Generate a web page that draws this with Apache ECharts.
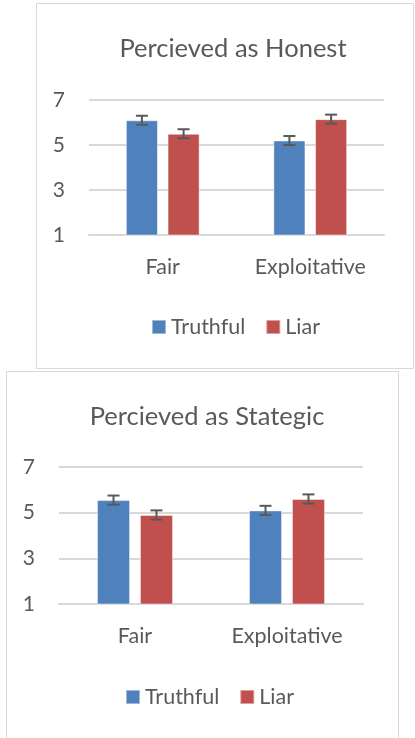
<!DOCTYPE html>
<html>
<head>
<meta charset="utf-8">
<script src="https://cdn.jsdelivr.net/npm/echarts@6/dist/echarts.min.js"></script>
<style>
  html, body { margin: 0; padding: 0; background: #fff; }
  #chart { width: 415px; height: 738px; }
</style>
</head>
<body>
<div id="chart"></div>
<script>
// 数据
var categories = ['Fair', 'Exploitative'];
var seriesNames = ['Truthful', 'Liar'];
var yTicks = [1, 3, 5, 7];

var honestTruthful = [6.1, 5.2];
var honestLiar = [5.5, 6.15];
var honestTruthfulErr = [0.2, 0.2];
var honestLiarErr = [0.2, 0.2];

var strategicTruthful = [5.55, 5.1];
var strategicLiar = [4.9, 5.6];
var strategicTruthfulErr = [0.2, 0.2];
var strategicLiarErr = [0.2, 0.2];

var BLUE = '#4F81BD', RED = '#C0504D', GRAY = '#595959', LINE = '#D9D9D9';
var FONT = 'Lato';
var CAT_GAP = 0.5, BAR_GAP = 0.3;

var chart = echarts.init(document.getElementById('chart'));

// 误差线 (custom series), 按柱子的位置偏移
function errorSeries(gi, idx, vals, errs) {
  var data = vals.map(function (v, i) { return [i, v - errs[i], v + errs[i]]; });
  return {
    type: 'custom',
    xAxisIndex: gi, yAxisIndex: gi,
    z: 10,
    silent: true,
    data: data,
    renderItem: function (params, api) {
      var band = api.size([1, 0])[0];
      var used = band * (1 - CAT_GAP);
      var barW = used / (2 + BAR_GAP);
      var off = -used / 2 + barW / 2 + idx * barW * (1 + BAR_GAP);
      var lo = api.coord([api.value(0), api.value(1)]);
      var hi = api.coord([api.value(0), api.value(2)]);
      var x = lo[0] + off, cap = 6;
      var st = { stroke: GRAY, lineWidth: 2 };
      return {
        type: 'group',
        children: [
          { type: 'line', shape: { x1: x, y1: lo[1], x2: x, y2: hi[1] }, style: st },
          { type: 'line', shape: { x1: x - cap, y1: lo[1], x2: x + cap, y2: lo[1] }, style: st },
          { type: 'line', shape: { x1: x - cap, y1: hi[1], x2: x + cap, y2: hi[1] }, style: st }
        ]
      };
    }
  };
}

function barSeries(gi, name, color, vals) {
  return {
    name: name,
    type: 'bar',
    xAxisIndex: gi, yAxisIndex: gi,
    data: vals,
    barGap: (BAR_GAP * 100) + '%',
    barCategoryGap: (CAT_GAP * 100) + '%',
    itemStyle: { color: color, borderColor: 'rgba(255,255,255,0.45)', borderWidth: 1 }
  };
}

function xAxis(gi) {
  return {
    type: 'category', gridIndex: gi, data: categories,
    axisTick: { show: false },
    axisLine: { lineStyle: { color: LINE, width: 2 } },
    axisLabel: { color: GRAY, fontFamily: FONT, fontSize: 21.5, margin: 21 }
  };
}

function yAxis(gi) {
  return {
    type: 'value', gridIndex: gi,
    min: yTicks[0], max: yTicks[yTicks.length - 1], interval: 2,
    axisLine: { show: false }, axisTick: { show: false },
    splitLine: { lineStyle: { color: LINE, width: 2 } },
    axisLabel: { color: GRAY, fontFamily: FONT, fontSize: 21, margin: 24 }
  };
}

function legend(left, top) {
  return {
    data: seriesNames, left: left, top: top,
    itemWidth: 14, itemHeight: 14, itemGap: 20,
    icon: 'rect',
    selectedMode: false,
    textStyle: { color: GRAY, fontFamily: FONT, fontSize: 21.5 }
  };
}

var option = {
  animation: false,
  graphic: [
    { type: 'rect', shape: { x: 36.5, y: 3.5, width: 377, height: 365 },
      style: { fill: 'none', stroke: LINE, lineWidth: 1 } },
    { type: 'rect', shape: { x: 6.5, y: 371.5, width: 392, height: 380 },
      style: { fill: '#fff', stroke: LINE, lineWidth: 1 } }
  ],
  title: [
    { text: 'Percieved as Honest', left: 228, top: 31, textAlign: 'center',
      textStyle: { color: GRAY, fontFamily: FONT, fontSize: 25.5, fontWeight: 'normal' } },
    { text: 'Percieved as Stategic', left: 202, top: 399, textAlign: 'center',
      textStyle: { color: GRAY, fontFamily: FONT, fontSize: 25.5, fontWeight: 'normal' } }
  ],
  legend: [legend(146, 311), legend(120, 681)],
  grid: [
    { left: 89, top: 100, width: 295, height: 135 },
    { left: 59, top: 467, width: 304, height: 137 }
  ],
  xAxis: [xAxis(0), xAxis(1)],
  yAxis: [yAxis(0), yAxis(1)],
  series: [
    barSeries(0, 'Truthful', BLUE, honestTruthful),
    barSeries(0, 'Liar', RED, honestLiar),
    errorSeries(0, 0, honestTruthful, honestTruthfulErr),
    errorSeries(0, 1, honestLiar, honestLiarErr),
    barSeries(1, 'Truthful', BLUE, strategicTruthful),
    barSeries(1, 'Liar', RED, strategicLiar),
    errorSeries(1, 0, strategicTruthful, strategicTruthfulErr),
    errorSeries(1, 1, strategicLiar, strategicLiarErr)
  ]
};

chart.setOption(option);
</script>
</body>
</html>
